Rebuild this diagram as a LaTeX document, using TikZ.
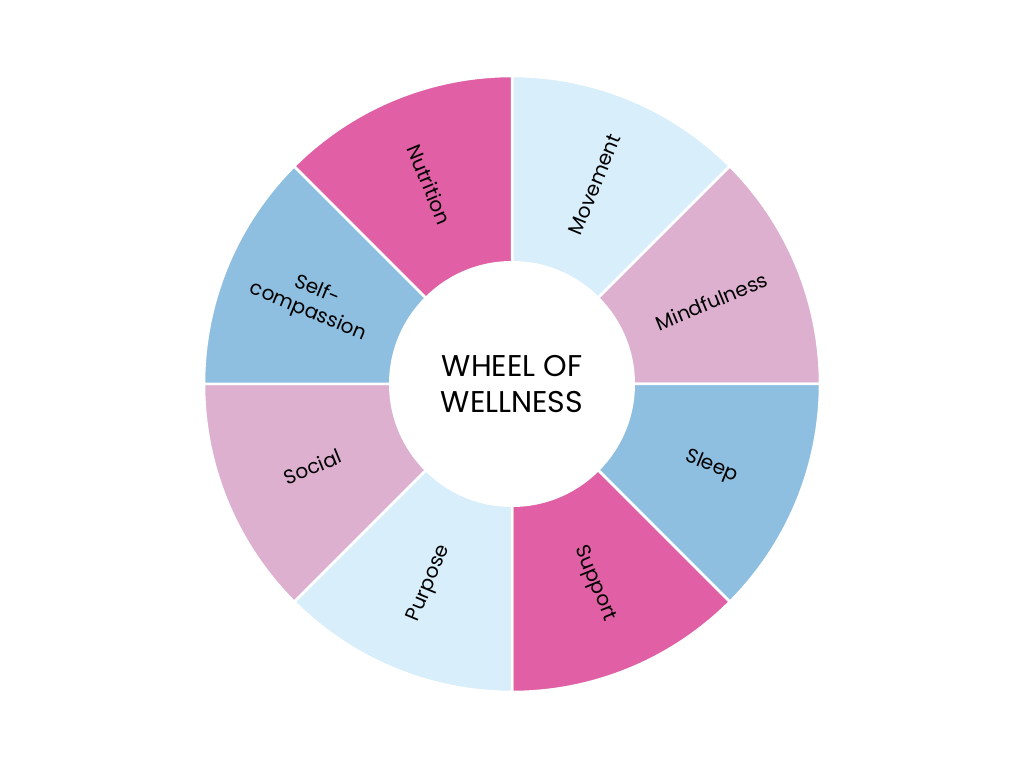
\documentclass[tikz,border=0pt]{standalone}
\usepackage{fontspec}
\setmainfont{Poppins}
\usetikzlibrary{calc}
\definecolor{pale}{HTML}{D8EEFB}
\definecolor{rose}{HTML}{DDB0D0}
\definecolor{sky}{HTML}{8EBFE0}
\definecolor{berry}{HTML}{E05FA5}

\begin{document}
\begin{tikzpicture}[x=1pt, y=1pt, thick]

  \useasboundingbox (0, 0) rectangle (1024, 768);
  \tikzset{seglabel/.style={font=\fontsize{20}{23}\selectfont, align=center}}

  % ring of sectors
  \foreach \a/\c/\name/\txt/\r in {45/pale/move/Movement/67.5, 0/rose/mind/Mindfulness/22.5,
      -45/sky/sleep/Sleep/-22.5, -90/berry/supp/Support/-67.5,
      -135/pale/purp/Purpose/67.5, 180/rose/soc/Social/22.5,
      135/sky/self/{Self-\\compassion}/-22.5, 90/berry/nutr/Nutrition/-67.5} {
    \fill[\c, draw=white, line width=2.5pt] (512, 384) -- ++(\a:308) arc (\a:\a+45:308) -- cycle;
    \node[seglabel, rotate=\r] (\name) at ($(512, 384) + (\a+22.5:216)$) {\txt};
  }

  \fill[white] (512, 384) circle (123);
  \node[font=\fontsize{30}{36}\selectfont, align=center] (title) at (512, 384) {WHEEL OF\\WELLNESS};

\end{tikzpicture}
\end{document}
